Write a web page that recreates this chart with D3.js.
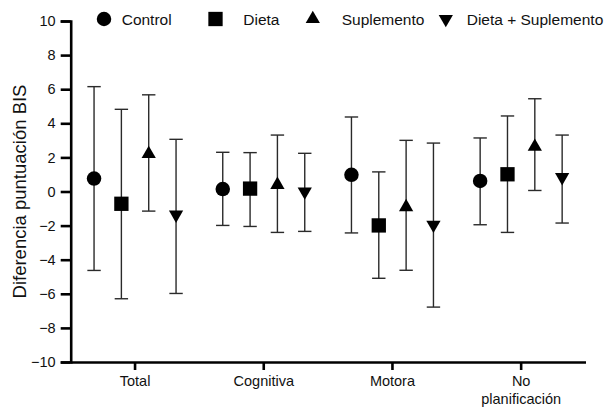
<!DOCTYPE html>
<html>
<head>
<meta charset="utf-8">
<script src="https://cdn.jsdelivr.net/npm/d3@7"></script>
<style>
  body { margin: 0; background: #fff; }
  svg { display: block; font-family: "Liberation Sans", Arial, sans-serif; }
</style>
</head>
<body>
<svg id="chart" width="608" height="409"></svg>
<script>
// Data
const categories = ['Total', 'Cognitiva', 'Motora', 'No planificación'];
const seriesNames = ['Control', 'Dieta', 'Suplemento', 'Dieta + Suplemento'];

const controlMean = [0.76, 0.14, 0.98, 0.62];
const controlUpper = [6.15, 2.30, 4.37, 3.14];
const controlLower = [-4.63, -1.99, -2.43, -1.95];

const dietaMean = [-0.72, 0.17, -1.99, 1.01];
const dietaUpper = [4.82, 2.28, 1.15, 4.43];
const dietaLower = [-6.29, -2.05, -5.09, -2.40];

const suplMean = [2.20, 0.39, -0.91, 2.63];
const suplUpper = [5.67, 3.31, 3.00, 5.44];
const suplLower = [-1.15, -2.40, -4.62, 0.06];

const dsMean = [-1.36, 0.0, -1.95, 0.84];
const dsUpper = [3.06, 2.24, 2.84, 3.31];
const dsLower = [-5.98, -2.34, -6.78, -1.85];

const yTicks = [-10, -8, -6, -4, -2, 0, 2, 4, 6, 8, 10];

const series = [
    { name: seriesNames[0], mean: controlMean, upper: controlUpper, lower: controlLower, shape: d3.symbolCircle, size: 165, rot: 0 },
    { name: seriesNames[1], mean: dietaMean, upper: dietaUpper, lower: dietaLower, shape: d3.symbolSquare, size: 205, rot: 0 },
    { name: seriesNames[2], mean: suplMean, upper: suplUpper, lower: suplLower, shape: d3.symbolTriangle, size: 88, rot: 0 },
    { name: seriesNames[3], mean: dsMean, upper: dsUpper, lower: dsLower, shape: d3.symbolTriangle, size: 88, rot: 180 }
];

const initChart = () => {
    const svg = d3.select('#chart');

    const x = d3.scaleBand()
        .domain(categories)
        .range([70.7, 585.5]);

    const inner = d3.scalePoint()
        .domain(seriesNames)
        .range([-41, 41]);

    const y = d3.scaleLinear()
        .domain([-10, 10])
        .range([362, 21]);

    // y axis
    const yAxis = svg.append('g')
        .attr('transform', 'translate(70.7,0)')
        .call(d3.axisLeft(y).tickValues(yTicks).tickSize(10).tickPadding(5));
    yAxis.select('.domain').attr('stroke', '#000').attr('stroke-width', 2.6);
    yAxis.selectAll('.tick line').attr('stroke', '#000').attr('stroke-width', 2.6);
    yAxis.selectAll('.tick text')
        .attr('font-size', 14.5)
        .attr('fill', '#111')
        .attr('font-family', '"Liberation Sans", Arial, sans-serif');

    // x axis
    const xAxis = svg.append('g')
        .attr('transform', 'translate(0,362)')
        .call(d3.axisBottom(x).tickSize(8).tickSizeOuter(0).tickPadding(6));
    xAxis.select('.domain').attr('stroke', '#000').attr('stroke-width', 2.6);
    xAxis.selectAll('.tick line').attr('stroke', '#000').attr('stroke-width', 2.6);
    xAxis.selectAll('.tick text')
        .attr('font-size', 14.5)
        .attr('fill', '#111')
        .attr('font-family', '"Liberation Sans", Arial, sans-serif')
        .each(function (d) {
            const t = d3.select(this);
            const words = d.split(' ');
            if (words.length > 1) {
                t.text(null);
                words.forEach((w, i) => {
                    t.append('tspan')
                        .attr('x', 0)
                        .attr('dy', i === 0 ? '0.71em' : '1.2em')
                        .text(w);
                });
            }
        });

    // error bars + markers
    const capW = 6.7;
    series.forEach(s => {
        const g = svg.append('g');
        categories.forEach((c, i) => {
            const cx = x(c) + x.bandwidth() / 2 + inner(s.name);
            g.append('line')
                .attr('x1', cx).attr('x2', cx)
                .attr('y1', y(s.upper[i])).attr('y2', y(s.lower[i]))
                .attr('stroke', '#2a2a2a').attr('stroke-width', 1.4);
            [s.upper[i], s.lower[i]].forEach(v => {
                g.append('line')
                    .attr('x1', cx - capW).attr('x2', cx + capW)
                    .attr('y1', y(v)).attr('y2', y(v))
                    .attr('stroke', '#2a2a2a').attr('stroke-width', 1.4);
            });
            g.append('path')
                .attr('d', d3.symbol().type(s.shape).size(s.size)())
                .attr('transform', `translate(${cx},${y(s.mean[i])}) rotate(${s.rot})`)
                .attr('fill', '#000');
        });
    });

    // legend
    const legendPos = [
        { mx: 104, tx: 121.7 },
        { mx: 215.5, tx: 243.3 },
        { mx: 312.8, tx: 341.7 },
        { mx: 445.8, tx: 466.7 }
    ];
    series.forEach((s, i) => {
        const p = legendPos[i];
        svg.append('path')
            .attr('d', d3.symbol().type(s.shape).size(s.size)())
            .attr('transform', `translate(${p.mx},19) rotate(${s.rot})`)
            .attr('fill', '#000');
        svg.append('text')
            .attr('x', p.tx)
            .attr('y', 24.5)
            .attr('font-size', 15.5)
            .attr('fill', '#111')
            .text(s.name);
    });

    // y title
    svg.append('text')
        .attr('transform', 'translate(26,191.5) rotate(-90)')
        .attr('text-anchor', 'middle')
        .attr('font-size', 18.5)
        .attr('fill', '#111')
        .text('Diferencia puntuación BIS');
};

document.addEventListener('DOMContentLoaded', initChart);
</script>
</body>
</html>
